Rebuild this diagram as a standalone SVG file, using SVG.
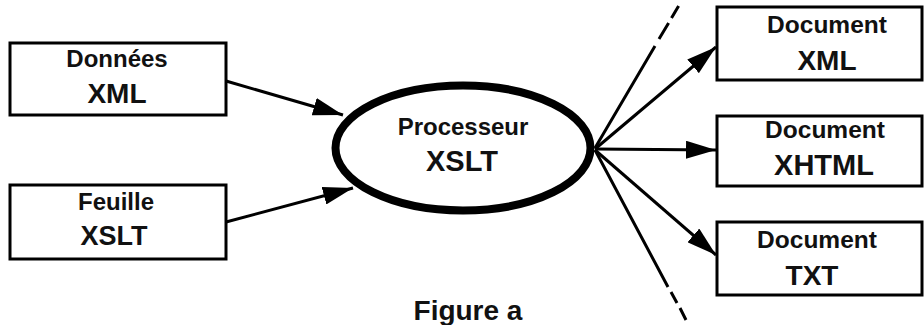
<svg xmlns="http://www.w3.org/2000/svg" width="924" height="325" viewBox="0 0 924 325">
<defs>
<style>
.box{fill:#fff;stroke:#000;stroke-width:3}
.t{font-family:"Liberation Sans",Arial,sans-serif;font-weight:bold;fill:#111;text-anchor:middle}
.s{font-size:24px}
.b{font-size:28px}
.ln{stroke:#000;stroke-width:3;fill:none}
</style>
<marker id="ah" markerUnits="userSpaceOnUse" markerWidth="30" markerHeight="18" refX="30" refY="9" orient="auto">
<path d="M0,0 L30,9 L0,18 z" fill="#000"/>
</marker>
</defs>
<rect width="924" height="325" fill="#fff"/>
<g id="connectors">
<line class="ln" x1="226" y1="81" x2="343" y2="115" marker-end="url(#ah)"/>
<line class="ln" x1="226" y1="222" x2="353" y2="188" marker-end="url(#ah)"/>
<line class="ln" x1="595" y1="149" x2="716" y2="47" marker-end="url(#ah)"/>
<line class="ln" x1="595" y1="149" x2="716" y2="150" marker-end="url(#ah)"/>
<line class="ln" x1="595" y1="150" x2="716" y2="255" marker-end="url(#ah)"/>
<path class="ln" d="M595,148 L655,46 M659,39 L668.6,23 M671.5,18 L678.6,6"/>
<path class="ln" d="M595,150 L668,287 M671,292 L677,303 M680,308 L686,320"/>
</g>
<g id="donnees">
<rect class="box" x="10" y="43" width="216" height="72"/>
<text class="t s" x="117" y="67">Données</text>
<text class="t b" x="117" y="103">XML</text>
</g>
<g id="feuille">
<rect class="box" x="10" y="185" width="216" height="74"/>
<text class="t s" x="116" y="210">Feuille</text>
<text class="t" style="font-size:27px" x="114" y="245">XSLT</text>
</g>
<g id="processeur">
<ellipse cx="463" cy="148" rx="127.5" ry="62.5" fill="#fff" stroke="#000" stroke-width="8"/>
<text class="t s" x="463" y="135">Processeur</text>
<text class="t" style="font-size:29px" x="462" y="171">XSLT</text>
</g>
<g id="doc-xml">
<rect class="box" x="717" y="7" width="205" height="73"/>
<text class="t" style="font-size:24.5px" x="827" y="33">Document</text>
<text class="t b" x="827" y="70">XML</text>
</g>
<g id="doc-xhtml">
<rect class="box" x="717" y="116" width="205" height="70"/>
<text class="t" style="font-size:24.5px" x="825" y="138">Document</text>
<text class="t" style="font-size:29px" x="824" y="175">XHTML</text>
</g>
<g id="doc-txt">
<rect class="box" x="717" y="222" width="205" height="73"/>
<text class="t" style="font-size:24.5px" x="817" y="248">Document</text>
<text class="t b" x="812" y="285">TXT</text>
</g>
<text id="caption" class="t b" x="468" y="320">Figure a</text>
</svg>
